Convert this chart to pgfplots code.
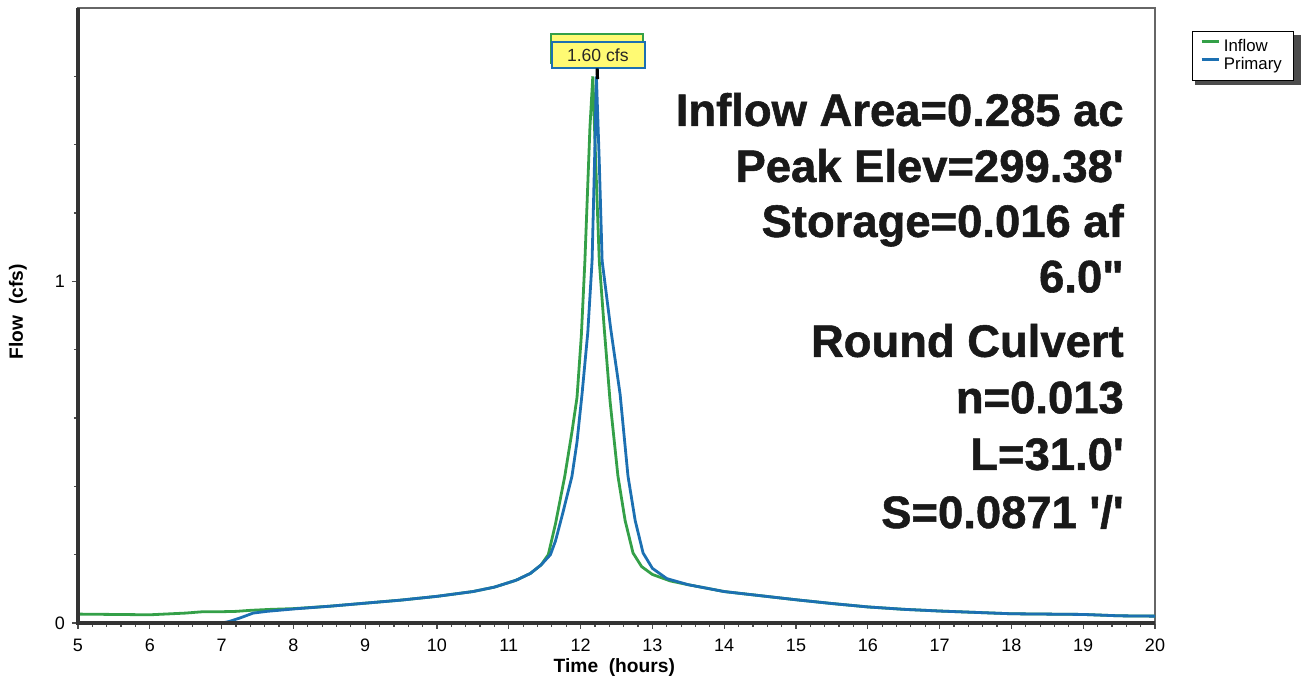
\documentclass[border=0pt]{standalone}
\usepackage{fontspec}
\setmainfont{Liberation Sans}
\newfontfamily\annfont{Liberation Sans}[BoldFeatures={FakeBold=1.2}]
\usepackage{pgfplots}
\pgfplotsset{compat=1.18}
\definecolor{inflowc}{RGB}{52,160,72}
\definecolor{primc}{RGB}{28,112,178}
\definecolor{boxyel}{RGB}{255,250,115}
\begin{document}
\begin{tikzpicture}
\useasboundingbox (-39pt,-30pt) rectangle (612pt,311.5pt);
\begin{axis}[
  at={(0,0)}, anchor=south west,
  scale only axis, width=538.5pt, height=307.5pt,
  clip=false,
  xmin=5, xmax=20, ymin=0, ymax=1.8,
  xtick={5,6,...,20}, minor x tick num=4,
  ytick={0,1}, minor ytick={0.2,0.4,0.6,0.8,1.2,1.4,1.6},
  tick align=outside, xtick pos=left, ytick pos=left,
  major tick length=3pt, minor tick length=2pt,
  tick style={black!70, line width=0.6pt},
  axis line style={black!60, line width=0.8pt},
  ticklabel style={font=\fontsize{9}{9}\selectfont},
  xticklabel style={yshift=-1.5pt},
  /pgf/number format/assume math mode=true,
  legend style={at={(1.0344,0.9626)}, anchor=north west, draw=black, line width=0.5pt,
    fill=white, font=\fontsize{8.4}{8.4}\selectfont, row sep=-2.5pt, inner xsep=3.8pt, inner ysep=1.8pt},
  legend cell align=left,
  legend image code/.code={\draw[#1, line width=1.4pt] (0pt,2.5pt) -- (8.5pt,2.5pt);},
]
\fill[black!70] (rel axis cs:1.0372,0.9560) rectangle (rel axis cs:1.1356,0.8740);
\addplot[inflowc, line width=1.4pt] table {
x y
5.0 0.026
5.5 0.025
6.0 0.024
6.2 0.026
6.5 0.029
6.74 0.033
7.0 0.033
7.2 0.034
7.4 0.037
7.7 0.040
8.0 0.042
8.5 0.049
9.0 0.058
9.5 0.067
10.0 0.078
10.5 0.092
10.8 0.105
11.1 0.125
11.3 0.145
11.45 0.17
11.55 0.20
11.65 0.29
11.78 0.43
11.88 0.56
11.95 0.66
12.01 0.84
12.06 1.06
12.13 1.45
12.17 1.60
12.21 1.35
12.26 1.06
12.33 0.86
12.41 0.65
12.52 0.43
12.62 0.30
12.73 0.205
12.85 0.165
13.0 0.142
13.25 0.123
13.5 0.112
14.0 0.092
14.5 0.080
15.0 0.068
15.5 0.057
16.0 0.047
16.5 0.040
17.0 0.035
17.5 0.031
18.0 0.027
18.5 0.026
19.0 0.025
19.5 0.021
20.0 0.020
};
\addlegendentry{Inflow}
\addplot[primc, line width=1.4pt] table {
x y
5.0 0
7.0 0
7.1 0.004
7.26 0.015
7.44 0.029
7.63 0.034
8.0 0.041
8.5 0.049
9.0 0.058
9.5 0.067
10.0 0.078
10.5 0.092
10.8 0.105
11.1 0.125
11.3 0.145
11.45 0.17
11.58 0.20
11.65 0.24
11.75 0.32
11.88 0.43
11.95 0.53
12.02 0.67
12.10 0.85
12.16 1.06
12.20 1.40
12.22 1.60
12.26 1.35
12.30 1.06
12.42 0.86
12.55 0.67
12.66 0.43
12.76 0.30
12.87 0.205
13.0 0.16
13.2 0.13
13.5 0.112
14.0 0.092
14.5 0.080
15.0 0.068
15.5 0.057
16.0 0.047
16.5 0.040
17.0 0.035
17.5 0.031
18.0 0.027
18.5 0.026
19.0 0.025
19.5 0.021
20.0 0.020
};
\addlegendentry{Primary}
\draw[line width=2.4pt, black!80] (rel axis cs:0,1) -- (rel axis cs:0,0) -- (rel axis cs:1,0);
% peak label
\draw[inflowc, line width=0.9pt, fill=boxyel] (axis cs:11.584,1.724) rectangle (axis cs:12.865,1.64);
\draw[primc, line width=1pt, fill=boxyel] (axis cs:11.597,1.701) rectangle (axis cs:12.897,1.623);
\node[font=\fontsize{8.8}{8.8}\selectfont, text=black!85] at (axis cs:12.24,1.662) {1.60 cfs};
\draw[black, line width=1.6pt] (axis cs:12.23,1.623) -- (axis cs:12.235,1.592);
% annotation text
\begin{scope}[every node/.style={anchor=base east, inner sep=0pt, font=\annfont\fontsize{22.7}{22.7}\selectfont\bfseries, text=black!90}]
\node at (axis cs:19.57,1.455) {Inflow Area=0.285 ac};
\node at (axis cs:19.57,1.291) {Peak Elev=299.38\textquotesingle};
\node at (axis cs:19.57,1.130) {Storage=0.016 af};
\node at (axis cs:19.57,0.968) {6.0\textquotedbl};
\node at (axis cs:19.57,0.779) {Round Culvert};
\node at (axis cs:19.57,0.614) {n=0.013};
\node at (axis cs:19.57,0.448) {L=31.0\textquotesingle};
\node at (axis cs:19.57,0.278) {S=0.0871 \textquotesingle/\textquotesingle};
\end{scope}
% axis labels
\node[font=\fontsize{9.6}{9.6}\selectfont\bfseries] at (rel axis cs:0.498,-0.073) {Time\ \ (hours)};
\node[rotate=90, font=\fontsize{9.6}{9.6}\selectfont\bfseries] at (rel axis cs:-0.0557,0.506) {Flow\ \ (cfs)};
\end{axis}
\end{tikzpicture}
\end{document}
